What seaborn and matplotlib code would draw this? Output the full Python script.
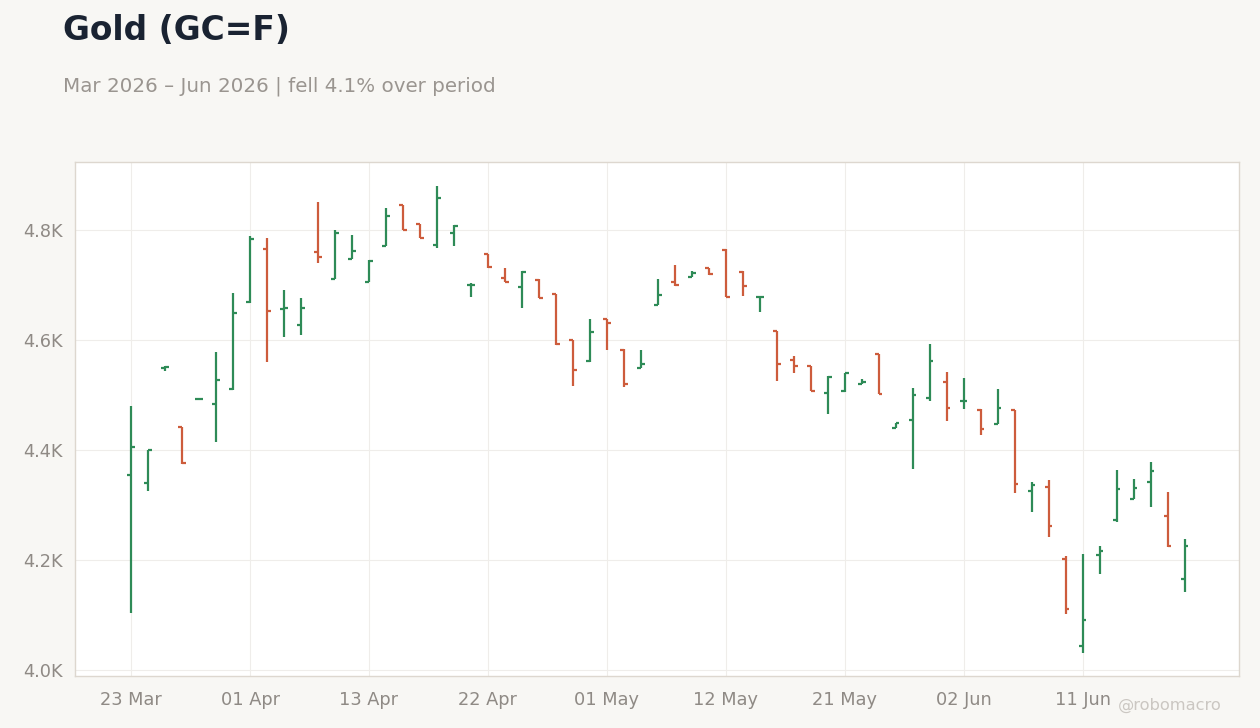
import pandas as pd
import matplotlib.pyplot as plt
import seaborn as sns
from matplotlib.ticker import FuncFormatter

# daily OHLC
opens = [4355, 4340, 4549, 4442, 4493, 4484, 4511, 4669, 4766, 4657, 4627, 4761, 4711, 4748,
         4705, 4771, 4845, 4812, 4773, 4795, 4701, 4756, 4713, 4697, 4710, 4683, 4601, 4562,
         4639, 4582, 4550, 4664, 4705, 4714, 4731, 4764, 4724, 4679, 4617, 4564, 4553, 4504,
         4508, 4521, 4574, 4441, 4455, 4495, 4524, 4490, 4473, 4447, 4473, 4326, 4333, 4201,
         4044, 4210, 4273, 4311, 4341, 4280, 4166]
highs = [4481, 4400, 4553, 4442, 4494, 4579, 4685, 4789, 4785, 4691, 4676, 4851, 4800, 4791,
         4745, 4841, 4845, 4812, 4880, 4810, 4704, 4756, 4732, 4725, 4712, 4683, 4601, 4638,
         4639, 4584, 4582, 4712, 4736, 4725, 4732, 4765, 4725, 4679, 4617, 4571, 4553, 4534,
         4541, 4530, 4574, 4450, 4512, 4593, 4542, 4531, 4474, 4511, 4473, 4341, 4345, 4207,
         4211, 4225, 4364, 4347, 4378, 4324, 4238]
lows = [4103, 4326, 4543, 4375, 4492, 4415, 4509, 4668, 4560, 4606, 4610, 4741, 4711, 4747,
        4705, 4771, 4800, 4785, 4768, 4771, 4678, 4732, 4705, 4659, 4676, 4592, 4517, 4561,
        4582, 4514, 4550, 4663, 4699, 4714, 4719, 4678, 4681, 4651, 4526, 4541, 4507, 4466,
        4505, 4520, 4502, 4441, 4365, 4490, 4452, 4475, 4428, 4447, 4321, 4287, 4242, 4101,
        4031, 4175, 4270, 4311, 4297, 4224, 4141]
closes = [4406, 4401, 4551, 4376, 4493, 4527, 4649, 4784, 4653, 4659, 4659, 4751, 4794, 4762,
          4744, 4825, 4800, 4785, 4858, 4808, 4701, 4733, 4705, 4724, 4676, 4593, 4546, 4615,
          4631, 4520, 4557, 4682, 4700, 4722, 4720, 4678, 4698, 4679, 4557, 4553, 4508, 4533,
          4541, 4523, 4502, 4450, 4501, 4562, 4476, 4490, 4439, 4477, 4339, 4337, 4261, 4110,
          4091, 4217, 4330, 4331, 4361, 4226, 4226]

holidays = ["2026-04-03", "2026-05-25", "2026-06-19"]
dates = pd.bdate_range("2026-03-23", "2026-07-10")
dates = dates[~dates.isin(pd.to_datetime(holidays))][: len(opens)]

df = pd.DataFrame({"open": opens, "high": highs, "low": lows, "close": closes})
df["x"] = range(len(df))
df["up"] = df["close"] >= df["open"]

GREEN = "#2e8b57"
RED = "#cd5c3c"
BG = "#f8f7f4"

sns.set_theme(style="whitegrid")
plt.rcParams["font.family"] = ["DejaVu Sans"]

fig = plt.figure(figsize=(12.6, 7.28), dpi=100, facecolor=BG)
ax = fig.add_axes([75 / 1260, 1 - 676 / 728, (1239 - 75) / 1260, (676 - 162) / 728])
ax.set_facecolor("white")

colors = [GREEN if u else RED for u in df["up"]]
w = 0.22
ax.vlines(df["x"], df["low"], df["high"], colors=colors, linewidth=1.6, zorder=3)
ax.hlines(df["open"], df["x"] - w, df["x"], colors=colors, linewidth=1.6, zorder=3)
ax.hlines(df["close"], df["x"], df["x"] + w, colors=colors, linewidth=1.6, zorder=3)

ax.set_xlim(-3.3, 65.2)
ax.set_ylim(3989, 4924)

tick_pos = list(range(0, 57, 7))
ax.set_xticks(tick_pos)
ax.set_xticklabels([dates[i].strftime("%d %b") for i in tick_pos])
ax.set_yticks([4000, 4200, 4400, 4600, 4800])
ax.yaxis.set_major_formatter(FuncFormatter(lambda v, p: f"{v / 1000:.1f}K"))

ax.grid(True, color="#efedea", linewidth=0.8)
ax.tick_params(axis="both", colors="#9a9590", labelsize=12.8, length=4, width=0.8,
               labelcolor="#8f8a85")
ax.tick_params(axis="x", pad=7)
ax.tick_params(axis="y", pad=5)
for s in ax.spines.values():
    s.set_color("#ddd7cf")
    s.set_linewidth(1.0)
ax.set_xlabel("")
ax.set_ylabel("")

fig.text(63 / 1260, 1 - 40 / 728, "Gold (GC=F)", fontsize=23.7, fontweight="bold",
         color="#1a2332", va="baseline", ha="left")
fig.text(63 / 1260, 1 - 92 / 728, "Mar 2026 \u2013 Jun 2026 | fell 4.1% over period",
         fontsize=14.3, color="#9a9590", va="baseline", ha="left")
fig.text(1222 / 1260, 1 - 710 / 728, "@robomacro", fontsize=11.7, color="#cbc7c2",
         va="baseline", ha="right")

fig.savefig("out.png", dpi=100, facecolor=BG)
